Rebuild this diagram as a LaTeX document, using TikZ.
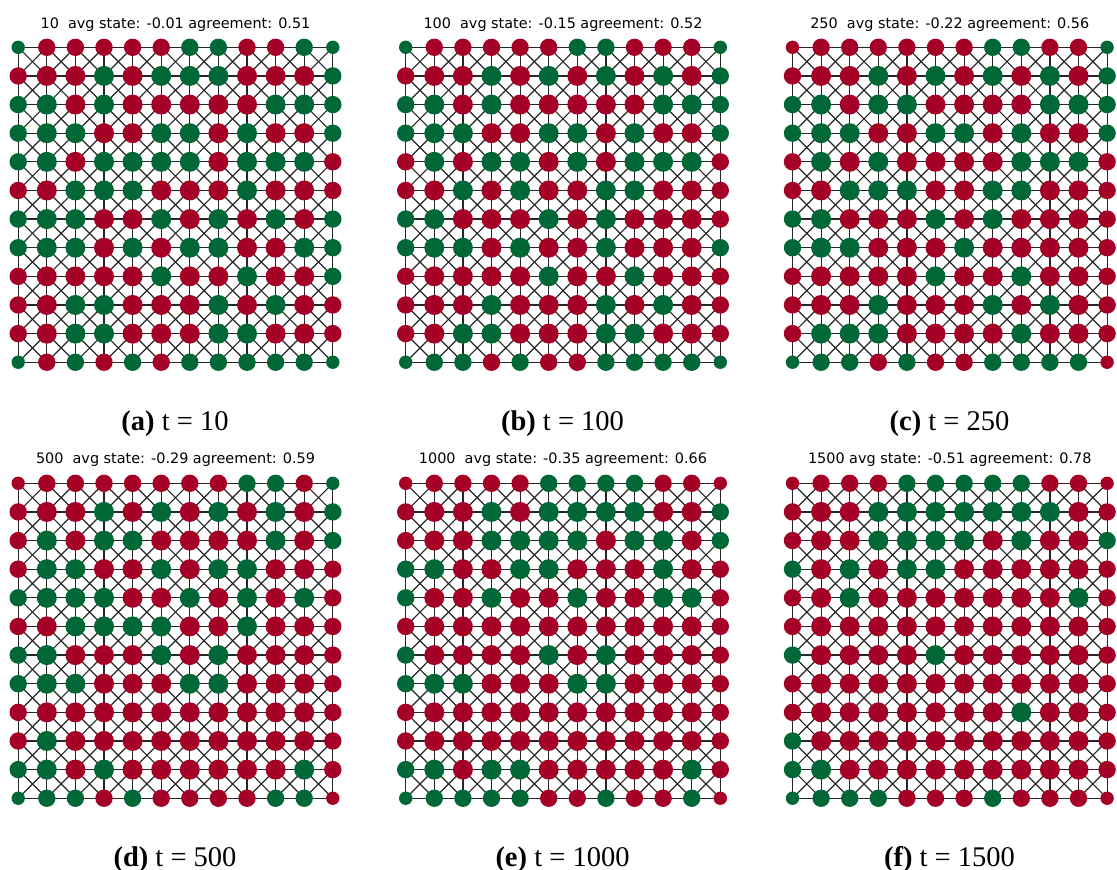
\documentclass[tikz,border=0pt]{standalone}
\usepackage{fontspec}
\setmainfont{Liberation Serif}
\newfontfamily\titlefont{DejaVu Sans}
\pgfdeclarelayer{bg}
\pgfsetlayers{bg,main}
\definecolor{cR}{HTML}{A50026}
\definecolor{cG}{HTML}{006837}
\tikzset{
  agent/.style={circle, inner sep=0pt, outer sep=0pt, draw=none, fill=c#1},
  link/.style={draw=black!85, line width=1.2pt},
  paneltitle/.style={font=\titlefont\fontsize{14.4}{16}\selectfont, anchor=base, inner sep=0pt},
  subcaption/.style={font=\fontsize{28.5}{32}\selectfont, anchor=base, inner sep=0pt},
}
\newcommand\drawpanel[4]{%
  \foreach \rowdata [count=\r] in {#4} {
    \foreach \c [count=\k] in \rowdata {
      \pgfmathtruncatemacro\ne{(\r==1)+(\r==12)+(\k==1)+(\k==12)}
      \ifcase\ne \def\dd{20}\or \def\dd{17.4}\else \def\dd{13.4}\fi
      \node[agent=\c, minimum size=\dd pt] (#1-\r-\k) at ({#2+(\k-1)*28.6},{#3+(\r-1)*28.63}) {};
    }
  }
  \begin{pgfonlayer}{bg}
  \foreach \r in {1,...,12} {
    \foreach \k in {1,...,12} {
      \pgfmathtruncatemacro\rn{\r+1}
      \pgfmathtruncatemacro\kn{\k+1}
      \pgfmathtruncatemacro\kp{\k-1}
      \ifnum\k<12 \draw[link] (#1-\r-\k.center) -- (#1-\r-\kn.center);\fi
      \ifnum\r<12
        \draw[link] (#1-\r-\k.center) -- (#1-\rn-\k.center);
        \ifnum\k<12 \draw[link] (#1-\r-\k.center) -- (#1-\rn-\kn.center);\fi
        \ifnum\k>1 \draw[link] (#1-\r-\k.center) -- (#1-\rn-\kp.center);\fi
      \fi
    }
  }
  \end{pgfonlayer}
}
\begin{document}
\begin{tikzpicture}[x=1pt,y=-1pt]
\useasboundingbox (0,0) rectangle (1117,870);

\drawpanel{pa}{18.2}{47.3}{
{G,R,R,R,R,R,G,G,R,R,G,G},
{R,R,R,G,R,G,G,G,R,R,R,G},
{G,G,R,G,R,R,R,R,R,G,G,G},
{G,G,G,R,R,G,G,R,G,R,R,G},
{G,G,R,G,G,G,G,R,G,G,G,R},
{R,R,G,G,G,R,R,R,G,R,R,R},
{G,G,G,R,R,G,R,G,R,G,R,G},
{G,G,G,R,G,R,G,G,R,R,G,G},
{R,R,R,R,R,G,R,R,G,R,R,G},
{R,R,G,G,R,R,R,G,R,G,R,R},
{R,R,G,G,R,R,R,G,G,R,R,R},
{G,R,G,R,G,R,G,G,G,G,G,G}}

\drawpanel{pb}{405.7}{47.3}{
{G,R,R,R,R,R,G,G,R,R,R,G},
{R,R,R,G,R,G,R,G,R,G,R,G},
{G,G,R,G,R,R,R,R,R,G,G,G},
{G,G,G,R,R,G,G,R,G,R,R,G},
{R,G,R,G,G,R,G,R,G,G,G,R},
{R,R,G,R,G,R,R,G,G,R,R,R},
{G,G,R,R,R,G,R,G,R,R,R,R},
{G,G,G,R,G,R,R,G,R,R,R,G},
{R,R,R,R,R,G,R,R,G,R,R,R},
{R,R,R,G,R,R,R,G,R,G,R,R},
{R,R,G,G,R,R,R,G,G,R,R,R},
{G,G,G,R,G,R,R,G,G,G,G,G}}

\drawpanel{pc}{792.5}{47.3}{
{R,R,R,R,R,R,R,G,G,R,R,G},
{R,R,R,G,R,G,R,G,R,G,R,G},
{G,G,R,G,G,R,R,R,R,G,G,G},
{G,G,G,R,R,G,G,R,G,R,R,G},
{R,G,R,G,R,R,R,R,G,G,G,R},
{R,R,G,G,G,R,R,G,G,R,R,R},
{G,G,R,R,R,G,R,G,R,R,R,R},
{G,G,G,R,R,R,G,R,R,R,R,R},
{R,R,R,R,R,G,R,R,G,R,R,R},
{R,R,R,G,R,R,R,G,R,G,R,R},
{R,G,G,G,R,R,R,R,G,R,R,R},
{G,G,G,R,G,R,R,G,G,G,G,R}}

\drawpanel{pd}{18.2}{483.3}{
{R,R,R,R,R,R,R,R,G,G,R,G},
{R,R,R,G,R,G,R,G,R,G,R,G},
{R,G,R,G,G,R,R,R,R,G,R,G},
{R,G,G,R,R,G,R,G,G,R,R,R},
{G,G,G,G,R,R,G,R,G,R,G,R},
{R,R,G,G,G,G,R,R,G,R,R,R},
{G,G,R,R,R,G,R,G,R,R,R,R},
{G,G,G,R,R,R,G,G,R,R,R,R},
{R,R,R,R,R,R,R,R,R,R,R,R},
{R,G,R,R,R,R,R,R,R,R,R,R},
{G,G,R,G,R,R,R,R,R,R,G,R},
{G,G,G,R,G,R,R,R,R,G,G,R}}

\drawpanel{pe}{405.7}{483.3}{
{R,R,R,R,R,G,G,G,G,R,R,R},
{R,R,R,G,R,G,G,G,G,R,R,G},
{R,R,R,G,G,G,G,R,G,G,R,G},
{G,G,R,R,G,G,R,R,R,G,R,R},
{G,R,R,G,R,R,G,R,R,G,G,R},
{R,R,R,R,R,R,R,R,R,R,R,R},
{G,R,R,R,R,G,R,G,R,R,R,R},
{G,G,G,R,R,R,G,G,R,R,R,R},
{R,R,R,R,R,R,R,R,R,R,R,R},
{R,R,R,R,R,R,R,R,R,R,R,R},
{G,G,R,G,G,R,R,R,R,R,G,R},
{G,G,G,G,G,R,R,G,R,R,G,R}}

\drawpanel{pf}{792.5}{483.3}{
{R,R,R,R,G,G,G,G,G,R,R,R},
{R,R,R,G,G,G,G,G,G,G,R,R},
{R,R,R,G,G,G,G,R,G,R,R,G},
{G,R,G,R,G,G,R,R,R,R,R,R},
{R,R,G,R,R,R,R,R,R,R,G,R},
{R,R,R,R,R,R,R,R,R,R,R,R},
{G,R,R,R,R,G,R,R,R,R,R,R},
{R,R,R,R,R,R,R,R,R,R,R,R},
{R,R,R,R,R,R,R,R,G,R,R,R},
{G,R,R,R,R,R,R,R,R,R,R,R},
{G,G,R,R,R,R,R,R,R,R,R,R},
{G,G,G,G,R,R,R,G,R,R,R,R}}

\node[paneltitle] (ta) at (175.5,28) {10\ \ avg state: -0.01 agreement: 0.51};
\node[paneltitle] (tb) at (563,28) {100\ \ avg state: -0.15 agreement: 0.52};
\node[paneltitle] (tc) at (949.8,28) {250\ \ avg state: -0.22 agreement: 0.56};
\node[paneltitle] (td) at (175.5,463) {500\ \ avg state: -0.29 agreement: 0.59};
\node[paneltitle] (te) at (563,463) {1000\ \ avg state: -0.35 agreement: 0.66};
\node[paneltitle] (tf) at (949.8,463) {1500 avg state: -0.51 agreement: 0.78};

\node[subcaption] (ca) at (175,430) {\textbf{(a)} t = 10};
\node[subcaption] (cb) at (562.5,430) {\textbf{(b)} t = 100};
\node[subcaption] (cc) at (949.5,430) {\textbf{(c)} t = 250};
\node[subcaption] (cd) at (175,866) {\textbf{(d)} t = 500};
\node[subcaption] (ce) at (562.5,866) {\textbf{(e)} t = 1000};
\node[subcaption] (cf) at (949.5,866) {\textbf{(f)} t = 1500};
\end{tikzpicture}
\end{document}
